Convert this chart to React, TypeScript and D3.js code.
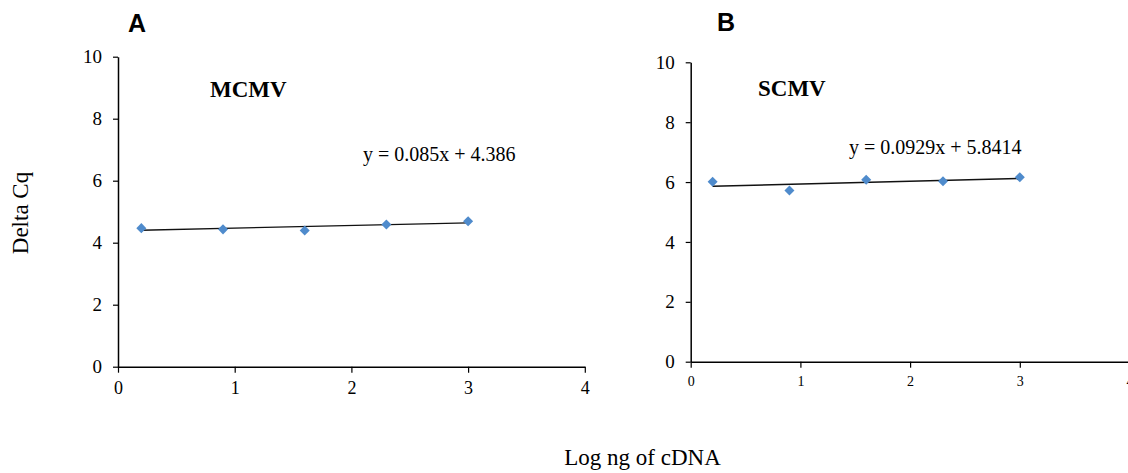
import React, { useEffect, useRef } from "react";
import * as d3 from "d3";

// log ng of cDNA
const logNg = [0.2, 0.9, 1.6, 2.3, 3];
const mcmvDeltaCq = [4.47, 4.43, 4.39, 4.59, 4.69];
const scmvDeltaCq = [6.01, 5.72, 6.08, 6.03, 6.16];
const mcmvFit = [0.085, 4.386];
const scmvFit = [0.0929, 5.8414];
const xTicks = [0, 1, 2, 3, 4];
const yTicks = [0, 2, 4, 6, 8, 10];

const serif = "'Liberation Serif', 'Times New Roman', serif";

const App = () => {
  const ref = useRef<SVGSVGElement>(null);

  useEffect(() => {
    const svg = d3.select(ref.current);
    svg.selectAll("*").remove();

    const panel = (opts: any) => {
      const x = d3.scaleLinear().domain([0, 4]).range([opts.x0, opts.x0 + 4 * opts.xUnit]);
      const y = d3.scaleLinear().domain([0, 10]).range([opts.yBottom, opts.yTop]);
      const g = svg.append("g");

      const ya = g.append("g")
        .attr("transform", `translate(${opts.x0},0)`)
        .call(d3.axisLeft(y).tickValues(yTicks).tickSize(5).tickSizeOuter(0).tickPadding(11).tickFormat(d3.format("d")));
      ya.selectAll("text").style("font-family", serif).style("font-size", "19px").attr("fill", "#000");

      const xa = g.append("g")
        .attr("transform", `translate(0,${opts.yBottom})`)
        .call(d3.axisBottom(x).tickValues(xTicks).tickSize(6).tickSizeOuter(0).tickPadding(opts.xPad).tickFormat(d3.format("d")));
      xa.selectAll("text").style("font-family", serif).style("font-size", opts.xFont + "px").attr("fill", "#000");

      g.selectAll(".domain").attr("stroke", "#000").attr("stroke-width", 1.5);
      g.selectAll(".tick line").attr("stroke", "#000").attr("stroke-width", 1.2);

      // trend line
      const fx = d3.extent(logNg) as [number, number];
      g.append("path")
        .attr("d", d3.line<number>().x(d => x(d)).y(d => y(opts.fit[0] * d + opts.fit[1]))(fx))
        .attr("stroke", "#111")
        .attr("stroke-width", 1.4)
        .attr("fill", "none");

      // diamonds
      const sym = d3.symbol().type(d3.symbolDiamond2).size(64);
      g.selectAll(".pt").data(opts.values as number[]).enter()
        .append("path")
        .attr("d", sym)
        .attr("transform", (d, i) => `translate(${x(logNg[i])},${y(d)})`)
        .attr("fill", "#4f8bcc");

      g.append("text").text(opts.name)
        .attr("x", opts.nameX).attr("y", opts.nameY)
        .style("font-family", serif).style("font-size", "23px").style("font-weight", "bold");

      g.append("text").text(opts.eq)
        .attr("x", opts.eqX).attr("y", opts.eqY)
        .style("font-family", serif).style("font-size", "20px");

      g.append("text").text(opts.letter)
        .attr("x", opts.letterX).attr("y", opts.letterY)
        .style("font-family", "'Liberation Sans', Arial, sans-serif").style("font-size", "25px").style("font-weight", "bold");
    };

    panel({
      x0: 118, xUnit: 116.7, yTop: 56.7, yBottom: 366.7, xPad: 9, xFont: 18,
      fit: mcmvFit, values: mcmvDeltaCq,
      name: "MCMV", nameX: 210, nameY: 97,
      eq: "y = 0.085x + 4.386", eqX: 363, eqY: 161,
      letter: "A", letterX: 128, letterY: 32,
    });

    panel({
      x0: 690.7, xUnit: 109.7, yTop: 62.3, yBottom: 361.7, xPad: 8, xFont: 14,
      fit: scmvFit, values: scmvDeltaCq,
      name: "SCMV", nameX: 758, nameY: 96,
      eq: "y = 0.0929x + 5.8414", eqX: 849, eqY: 154,
      letter: "B", letterX: 717, letterY: 31,
    });

    svg.append("text").text("Delta  Cq")
      .attr("transform", "translate(28,213) rotate(-90)")
      .attr("text-anchor", "middle")
      .style("font-family", serif).style("font-size", "23px");

    svg.append("text").text("Log ng of cDNA")
      .attr("x", 642.5).attr("y", 465)
      .attr("text-anchor", "middle")
      .style("font-family", serif).style("font-size", "23px");
  }, []);

  return (
    <svg ref={ref} width={1128} height={473}
      style={{ position: "absolute", left: 0, top: 0, background: "#fff" }} />
  );
};

export default App;
